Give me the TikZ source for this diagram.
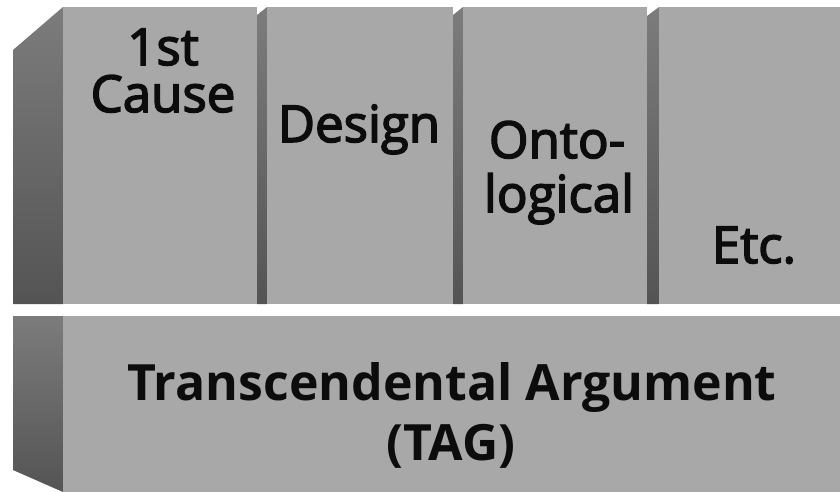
\documentclass[tikz,border=0pt]{standalone}
\usepackage{fontspec}
\setmainfont{Open Sans}
\newfontfamily\pillarfont{Open Sans}[FakeBold=3]
\newfontfamily\basefont{Open Sans Bold}
\definecolor{face}{RGB}{168,168,168}
\definecolor{sidetop}{RGB}{124,124,124}
\definecolor{sidebot}{RGB}{84,84,84}
\definecolor{inktext}{RGB}{12,12,12}
\tikzset{
  frontface/.style={fill=face},
  sideface/.style={top color=sidetop, bottom color=sidebot, draw=none},
  pillartext/.style={anchor=base, inner sep=0pt, text=inktext, font=\pillarfont\fontsize{51}{56}\selectfont},
  basetext/.style={anchor=base, inner sep=0pt, text=inktext, font=\basefont\fontsize{50}{56}\selectfont}
}
\begin{document}
\begin{tikzpicture}[x=1pt,y=-1pt]
\useasboundingbox (0,0) rectangle (840,492);
\fill[white] (0,0) rectangle (840,492);
% top row: pillars
\shade[sideface] (13,50) -- (63,7) -- (63,304) -- (13,304) -- cycle;
\fill[frontface] (63,7) rectangle (257,304);
\shade[sideface] (257,15) -- (267,7) -- (267,304) -- (257,304) -- cycle;
\fill[frontface] (267,7) rectangle (453,304);
\shade[sideface] (453,15) -- (463,7) -- (463,304) -- (453,304) -- cycle;
\fill[frontface] (463,7) rectangle (647,304);
\shade[sideface] (647,16) -- (659,7) -- (659,304) -- (647,304) -- cycle;
\fill[frontface] (659,7) rectangle (840,304);
% bottom slab
\shade[sideface] (13,316) -- (63,316) -- (63,492) -- (13,470) -- cycle;
\fill[frontface] (63,316) rectangle (840,492);
% labels
\node[pillartext] (cause1) at (163,65) {1st};
\node[pillartext] (cause2) at (163,112) {Cause};
\node[pillartext] (design) at (359,142) {Design};
\node[pillartext] (onto1) at (557,158) {Onto-};
\node[pillartext] (onto2) at (559,212) {logical};
\node[pillartext] (etc) at (754,263) {Etc.};
\node[basetext] (tag1) at (452,400) {Transcendental Argument};
\node[basetext] (tag2) at (451,460) {(TAG)};
\end{tikzpicture}
\end{document}
